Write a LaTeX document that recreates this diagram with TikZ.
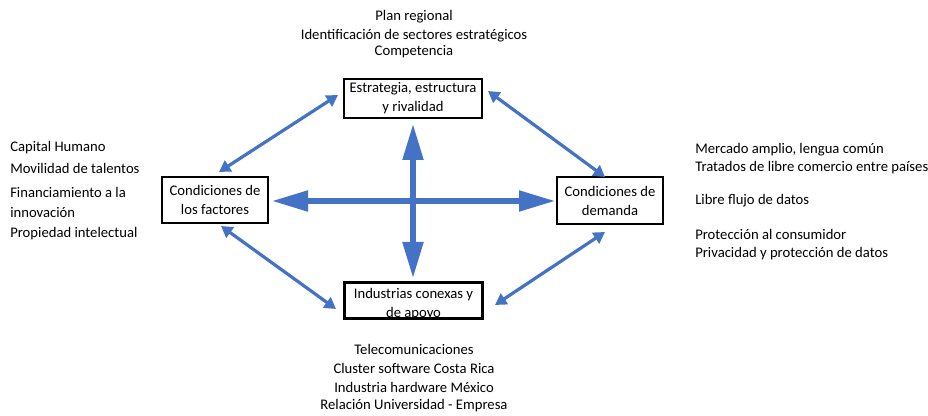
\documentclass[tikz,border=0pt]{standalone}
\usepackage{fontspec}
\setmainfont{Carlito}
\usetikzlibrary{arrows.meta}
\definecolor{arrowblue}{HTML}{4472C4}
\tikzset{
  boxnode/.style={draw=black, line width=1.6pt, fill=white, inner sep=0pt, align=center},
  lbl/.style={inner sep=0pt, align=center, font=\fontsize{11}{14.25}\selectfont},
  lbll/.style={inner sep=0pt, anchor=west, font=\fontsize{11}{14.25}\selectfont},
  thinarrow/.style={draw=arrowblue, line width=2.4pt, {Triangle[length=8.5pt,width=9.5pt]}-{Triangle[length=8.5pt,width=9.5pt]}},
  bigarrow/.style={draw=arrowblue, line width=3.9pt, {Triangle[length=27pt,width=15pt]}-{Triangle[length=27pt,width=15pt]}}
}
\begin{document}
\begin{tikzpicture}[x=0.75pt,y=-0.75pt]
\useasboundingbox (0,0) rectangle (928,416);

% boxes
\node[boxnode, minimum width=138*0.75pt, minimum height=39*0.75pt, lbl] (est) at (413,98.5) {Estrategia, estructura\\y rivalidad};
\node[boxnode, minimum width=106*0.75pt, minimum height=46*0.75pt, lbl] (fac) at (215,200) {Condiciones de\\los factores};
\node[boxnode, minimum width=106*0.75pt, minimum height=47*0.75pt, lbl] (dem) at (610,200.5) {Condiciones de\\demanda};
\node[boxnode, minimum width=137*0.75pt, minimum height=35*0.75pt] (ind) at (413.5,300.5) {};
\begin{scope}
  \clip (ind.south west) rectangle (ind.north east);
  \node[lbl] (indtext) at (413.5,304.5) {Industrias conexas y\\de apoyo};
\end{scope}
\draw[line width=1.6pt] (ind.south west) rectangle (ind.north east);

% thin arrows
\coordinate (a1s) at (219,172); \coordinate (a1e) at (338,95);
\coordinate (a2s) at (488,91);  \coordinate (a2e) at (605,177);
\coordinate (a3s) at (221,226); \coordinate (a3e) at (336,309);
\coordinate (a4s) at (605,232); \coordinate (a4e) at (495,305);
\draw[thinarrow] (a1s) -- (a1e);
\draw[thinarrow] (a2s) -- (a2e);
\draw[thinarrow] (a3s) -- (a3e);
\draw[thinarrow] (a4s) -- (a4e);

% central cross
\coordinate (hl) at (272,201); \coordinate (hr) at (555,201);
\coordinate (vt) at (413,124); \coordinate (vb) at (413,278);
\draw[bigarrow] (hl) -- (hr);
\draw[bigarrow] (vt) -- (vb);

% top texts
\node[lbl] (t1) at (414,17) {Plan regional};
\node[lbl] (t2) at (414,36) {Identificación de sectores estratégicos};
\node[lbl] (t3) at (414,52) {Competencia};

% left texts
\node[lbll] (l1) at (10,148) {Capital Humano};
\node[lbll] (l2) at (10,168) {Movilidad de talentos};
\node[lbll] (l3) at (10,192) {Financiamiento a la};
\node[lbll] (l4) at (10,213) {innovación};
\node[lbll] (l5) at (10,234) {Propiedad intelectual};

% right texts
\node[lbll] (r1) at (695,150) {Mercado amplio, lengua común};
\node[lbll] (r2) at (695,168) {Tratados de libre comercio entre países};
\node[lbll] (r3) at (695,201) {Libre flujo de datos};
\node[lbll] (r4) at (695,234) {Protección al consumidor};
\node[lbll] (r5) at (695,254) {Privacidad y protección de datos};

% bottom texts
\node[lbl] (b1) at (414,349) {Telecomunicaciones};
\node[lbl] (b2) at (414,368) {Cluster software Costa Rica};
\node[lbl] (b3) at (414,387) {Industria hardware México};
\node[lbl] (b4) at (414,406) {Relación Universidad - Empresa};
\end{tikzpicture}
\end{document}
